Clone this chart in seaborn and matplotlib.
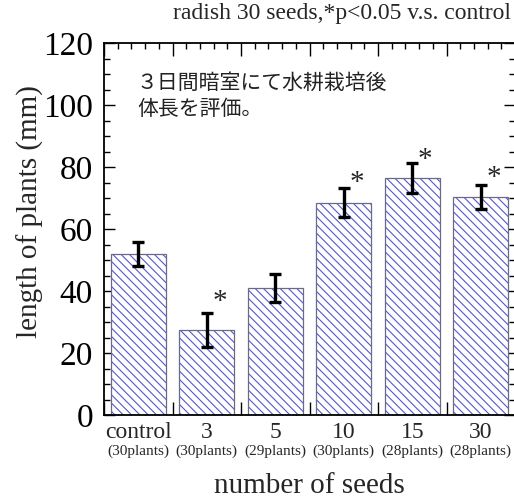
import numpy as np
import pandas as pd
import matplotlib
matplotlib.use("Agg")
import matplotlib.pyplot as plt
import seaborn as sns
from matplotlib.ticker import FixedLocator, MultipleLocator

categories = ["control", "3", "5", "10", "15", "30"]
plant_counts = ["(30plants)", "(30plants)", "(29plants)", "(30plants)", "(28plants)", "(28plants)"]
mean_length = [52.0, 27.5, 41.0, 68.5, 76.5, 70.3]
err_length = [3.8, 5.5, 4.5, 4.7, 4.8, 4.0]
significant = [False, True, False, True, True, True]
star_y = [None, 36.6, None, 75.0, 82.4, 76.5]

title_text = "radish 30 seeds,*p<0.05 v.s. control"
note_text = "３日間暗室にて水耕栽培後\n体長を評価。"

sns.set_theme(style="ticks")
plt.rcParams['font.family'] = ['Liberation Serif', 'DejaVu Serif']
plt.rcParams['hatch.linewidth'] = 0.8
plt.rcParams['axes.linewidth'] = 1.3

fig = plt.figure(figsize=(5.14, 4.99), dpi=100)
ax = fig.add_axes([104 / 514, 84 / 499, 411 / 514, 372 / 499])

df = pd.DataFrame({"seeds": categories, "length": mean_length})
hatch_color = "#5656d0"
sns.barplot(data=df, x="seeds", y="length", order=categories, color="white",
            saturation=1, width=0.8, errorbar=None, ax=ax, linewidth=0,
            hatch="\\\\\\\\")
for p in ax.patches:
    p.set_edgecolor(hatch_color)
    p.set_linewidth(0)
sns.barplot(data=df, x="seeds", y="length", order=categories, color="#6a6a88",
            saturation=1, width=0.8, errorbar=None, ax=ax, fill=False, linewidth=0.9)

pos = np.arange(len(categories))
ax.errorbar(pos, mean_length, yerr=err_length, fmt="none", ecolor="black",
            elinewidth=2.4, capsize=4.5, capthick=2.4, zorder=5)

for i, (sig, sy) in enumerate(zip(significant, star_y)):
    if sig:
        ax.text(i + 0.19, sy, "*", ha="center", va="center", fontsize=21, zorder=6)

ax.set_xlim(-0.5, 5.5)
ax.set_ylim(0, 120)
ax.xaxis.set_major_locator(FixedLocator(np.arange(-0.5, 5.51, 1.0)))
ax.xaxis.set_minor_locator(FixedLocator(np.arange(-0.5, 5.51, 0.2)))
ax.yaxis.set_major_locator(MultipleLocator(20))
ax.yaxis.set_minor_locator(MultipleLocator(5))
ax.tick_params(axis="both", which="both", direction="in", top=True, right=True,
               colors="black", width=1.0)
ax.tick_params(axis="x", which="major", length=9.5, labelbottom=False)
ax.tick_params(axis="x", which="minor", length=4.5)
ax.tick_params(axis="y", which="major", length=8, labelsize=24, pad=8)
ax.tick_params(axis="y", which="minor", length=4.5)
for s in ax.spines.values():
    s.set_color("black")

sec = ax.secondary_xaxis("bottom")
sec.set_xticks(pos, labels=categories)
sec.tick_params(length=0, labelsize=17, pad=5)
sec.spines["bottom"].set_visible(False)

sec2 = ax.secondary_xaxis("bottom")
sec2.set_xticks(pos, labels=plant_counts)
sec2.tick_params(length=0, labelsize=11, pad=21)
sec2.spines["bottom"].set_visible(False)

ax.set_xlabel("number of seeds", fontsize=21)
ax.xaxis.set_label_coords(0.5, -0.157)
ax.set_ylabel("length of plants (mm)", fontsize=21)
ax.yaxis.set_label_coords(-0.147, 0.547)

fig.text(511 / 514, (499 - 19) / 499, title_text, ha="right", va="baseline", fontsize=17)
ax.text(0.08, 0.922, note_text, transform=ax.transAxes, ha="left", va="top",
        fontsize=15, family=["Noto Sans CJK JP", "DejaVu Sans"], color="#222222",
        linespacing=1.25)

fig.savefig("out.png", dpi=100)
